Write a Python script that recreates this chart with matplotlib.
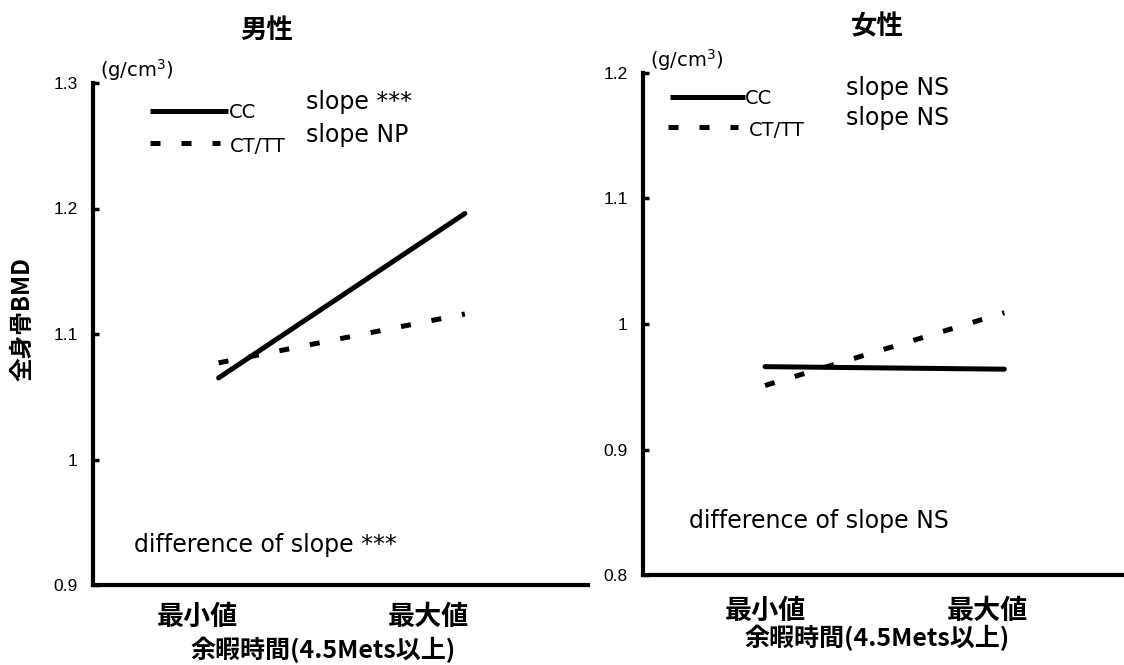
import matplotlib
matplotlib.use("Agg")
import matplotlib.pyplot as plt
from matplotlib.lines import Line2D

plt.rcParams['font.family'] = ['Noto Sans CJK JP', 'DejaVu Sans']

categories = ['最小値', '最大値']
x_pos = [0, 1]
men_cc = [1.065, 1.196]
men_cttt = [1.077, 1.116]
women_cc = [0.966, 0.964]
women_cttt = [0.951, 1.009]
men_yticks = [0.9, 1.0, 1.1, 1.2, 1.3]
men_yticklabels = ['0.9', '1', '1.1', '1.2', '1.3']
women_yticks = [0.8, 0.9, 1.0, 1.1, 1.2]
women_yticklabels = ['0.8', '0.9', '1', '1.1', '1.2']

fig = plt.figure(figsize=(11.24, 6.65), dpi=100)
W, H = 1124, 665

def px_axes(x0, x1, ytop, ybot):
    return fig.add_axes([x0 / W, 1 - ybot / H, (x1 - x0) / W, (ybot - ytop) / H])

axL = px_axes(93, 588, 83, 585)
axR = px_axes(643, 1124, 73, 575)

LW = 3.6
DASH = (0, (2.0, 4.2))
latin = ['DejaVu Sans']

def style(ax, yticks, ylabels, xt, xlab_xy, xpad):
    for s in ['top', 'right']:
        ax.spines[s].set_visible(False)
    for s in ['left', 'bottom']:
        ax.spines[s].set_linewidth(3.0)
    ax.set_xlim(-0.51, 1.5)
    ax.set_ylim(yticks[0], yticks[-1])
    ax.set_yticks(yticks)
    ax.set_yticklabels(ylabels, fontsize=12.5, family=['Liberation Sans'])
    ax.tick_params(axis='y', direction='in', length=4, width=2.5, pad=11)
    ax.set_xticks(xt)
    ax.set_xticklabels(categories, fontsize=19.5, fontweight='bold')
    ax.tick_params(axis='x', length=0, pad=xpad)
    ax.set_xlabel('余暇時間(4.5Mets以上)', fontsize=18, fontweight='bold')
    ax.xaxis.label.set_va('center')
    ax.xaxis.set_label_coords(*xlab_xy)

# Men
axL.plot(x_pos, men_cc, color='black', lw=LW, solid_capstyle='round')
axL.plot(x_pos, men_cttt, color='black', lw=LW, linestyle=DASH, dash_capstyle='butt')
style(axL, men_yticks, men_yticklabels, [-0.086, 0.853], (0.465, -0.1295), 13)
axL.set_ylabel('全身骨BMD', fontsize=17, fontweight='bold')
axL.yaxis.set_label_coords(-0.118, 0.53)

# Women
axR.plot(x_pos, women_cc, color='black', lw=LW, solid_capstyle='round')
axR.plot(x_pos, women_cttt, color='black', lw=LW, linestyle=DASH, dash_capstyle='butt')
style(axR, women_yticks, women_yticklabels, [0.0, 0.93], (0.486, -0.1255), 16)

def ftext(x, y, s, **kw):
    fig.text(x / W, 1 - y / H, s, **kw)

# titles
ftext(267, 30, '男性', fontsize=19, fontweight='bold', ha='center', va='center')
ftext(877, 27, '女性', fontsize=19, fontweight='bold', ha='center', va='center')

# units
ftext(100, 70, '(g/cm$^3$)', fontsize=14, family=latin, ha='left', va='center')
ftext(650, 60, '(g/cm$^3$)', fontsize=14, family=latin, ha='left', va='center')

def fline(x0, x1, y, **kw):
    fig.add_artist(Line2D([x0 / W, x1 / W], [1 - y / H, 1 - y / H], transform=fig.transFigure, **kw))

# legends
fline(150, 228, 111, color='black', lw=LW, solid_capstyle='butt')
fline(150, 220, 143, color='black', lw=LW, linestyle=DASH, dash_capstyle='butt')
ftext(229, 113, 'CC', fontsize=14, family=latin, ha='left', va='center')
ftext(230, 146, 'CT/TT', fontsize=14, family=latin, ha='left', va='center')

fline(670, 745, 97, color='black', lw=LW, solid_capstyle='butt')
fline(668, 738, 127, color='black', lw=LW, linestyle=DASH, dash_capstyle='butt')
ftext(745, 99, 'CC', fontsize=14, family=latin, ha='left', va='center')
ftext(749, 131, 'CT/TT', fontsize=14, family=latin, ha='left', va='center')

# annotations
ftext(306, 102, 'slope ***', fontsize=17, family=latin, ha='left', va='center')
ftext(306, 135, 'slope NP', fontsize=17, family=latin, ha='left', va='center')
ftext(846, 88, 'slope NS', fontsize=17, family=latin, ha='left', va='center')
ftext(846, 118, 'slope NS', fontsize=17, family=latin, ha='left', va='center')
ftext(134, 545, 'difference of slope ***', fontsize=17, family=latin, ha='left', va='center')
ftext(689, 521, 'difference of slope NS', fontsize=17, family=latin, ha='left', va='center')

fig.savefig('out.png', dpi=100)
